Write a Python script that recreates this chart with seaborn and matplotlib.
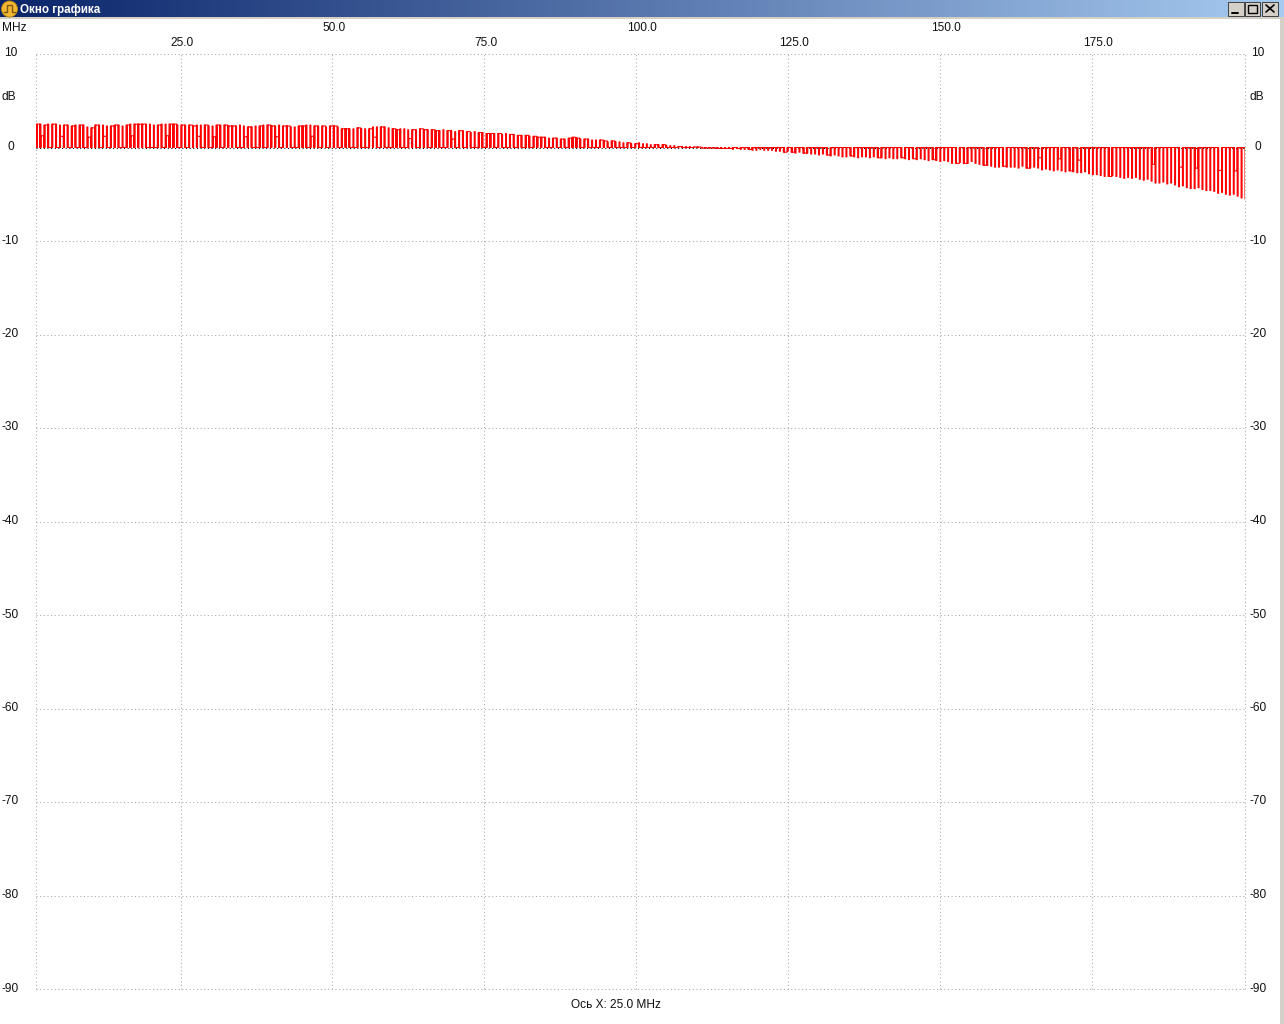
import numpy as np
import pandas as pd
import seaborn as sns
import matplotlib.pyplot as plt
from matplotlib.patches import Circle, Rectangle
from matplotlib.transforms import ScaledTranslation

# pulse tops in dB left to right
peaks_a = [2.5, 2.5, 2.4, 2.5, 2.5, 2.5, 2.4, 2.4, 2.4, 2.3, 2.4, 2.4, 2.4, 2.2, 2.1, 2.4, 2.4, 2.4, 2.3, 2.3,
           2.4, 2.4, 2.3, 2.4, 2.5, 2.5, 2.5, 2.5, 2.5, 2.5, 2.4, 2.4, 2.5, 2.5, 2.5, 2.5, 2.4, 2.4, 2.4, 2.4,
           2.3, 2.4, 2.4, 2.4, 2.3, 2.3, 2.4, 2.4, 2.4, 2.3]
peaks_b = [2.3, 2.3, 2.4, 2.3, 2.2, 2.2, 2.3, 2.3, 2.4, 2.4, 2.3, 2.3, 2.4, 2.3, 2.3, 2.2, 2.2, 2.3, 2.3, 2.4,
           2.4, 2.3, 2.3, 2.3, 2.2, 2.3, 2.3, 2.2, 2.0, 2.0, 2.0, 2.0, 2.1, 2.0, 2.0, 2.0, 2.2, 2.2, 2.2, 2.2,
           2.1, 2.0, 1.9, 2.0, 2.0, 1.9, 1.9, 1.9, 2.0, 1.9]
peaks_c = [1.9, 1.9, 1.8, 1.8, 1.9, 1.8, 1.8, 1.7, 1.8, 1.8, 1.7, 1.6, 1.7, 1.6, 1.6, 1.5, 1.5, 1.5, 1.5, 1.4,
           1.5, 1.4, 1.4, 1.3, 1.3, 1.3, 1.2, 1.2, 1.1, 1.1, 1.1, 1.0, 1.0, 1.0, 0.9, 0.9, 1.0, 1.1, 1.0, 0.9,
           0.9, 0.9, 0.8, 0.8, 0.8, 0.7, 0.6, 0.7, 0.6, 0.6]
peaks_d = [0.5, 0.5, 0.4, 0.4, 0.5, 0.4, 0.4, 0.3, 0.3, 0.3, 0.3, 0.2, 0.2, 0.2, 0.1, 0.1, 0.1, 0.1, 0.05, 0.05,
           -0.05, -0.05, -0.05, -0.05, -0.1, -0.1, -0.1, -0.1, -0.2, -0.1, -0.2, -0.2, -0.2, -0.3, -0.3, -0.2, -0.3, -0.3, -0.3, -0.4,
           -0.4, -0.5, -0.4, -0.5, -0.6, -0.5, -0.6, -0.6, -0.7, -0.7]
peaks_e = [-0.8, -0.7, -0.8, -0.9, -0.8, -0.9, -1.0, -1.0, -0.9, -1.0, -1.1, -1.0, -1.0, -1.1, -1.0, -1.1, -1.1, -1.2, -1.1, -1.2,
           -1.2, -1.1, -1.2, -1.3, -1.2, -1.3, -1.2, -1.3, -1.4, -1.3, -1.4, -1.5, -1.4, -1.5, -1.7, -1.7, -1.6, -1.7, -1.7, -1.5,
           -1.7, -1.8, -1.9, -1.9, -2.0, -2.1, -2.1, -2.0, -2.1, -2.1]
peaks_f = [-2.1, -2.2, -2.0, -2.2, -2.2, -2.1, -2.2, -2.4, -2.3, -2.4, -2.5, -2.4, -2.5, -2.6, -2.5, -2.6, -2.7, -2.7, -2.6, -2.8,
           -2.9, -2.9, -3.0, -3.1, -3.1, -3.0, -3.1, -3.2, -3.3, -3.2, -3.3, -3.2, -3.4, -3.5, -3.4, -3.6, -3.8, -3.8, -3.7, -3.9,
           -3.8, -4.0, -4.2, -4.1, -4.3, -4.4, -4.4, -4.3, -4.5, -4.6]
peaks_g = [-4.6, -4.7, -4.9, -4.8, -5.0, -5.1, -5.0, -5.2, -5.4, -5.5]

# what the trace does between pulses: 0 back to baseline, 1 stays at the top, 5 half way
gaps_a = "15101051010105110501100151110001051101011501051011"
gaps_b = "10051001011501100110510101101100100150100110051011"
gaps_c = "01100150101001011010010101011100101011101000110100"
gaps_d = "01010000101000100011111111110100100000000101001000"
gaps_e = "00100000100000010000010010000100000101000010000100"
gaps_f = "00010050000500105000000010000000000500000050005000"
gaps_g = "0050005000"

y_ticks = [10, 0, -10, -20, -30, -40, -50, -60, -70, -80, -90]
x_ticks_low = [25, 75, 125, 175]
x_ticks_high = [50, 100, 150]
f_start = 1.2
f_stop = 200.2
title_text = "Окно графика"
footer_text = "Ось X: 25.0 MHz"


def build_trace():
    peaks = peaks_a + peaks_b + peaks_c + peaks_d + peaks_e + peaks_f + peaks_g
    gaps = gaps_a + gaps_b + gaps_c + gaps_d + gaps_e + gaps_f + gaps_g
    freqs = np.linspace(f_start, f_stop, len(peaks))
    bar_w = (f_stop - f_start) / 1209
    xs, ys = [], []
    for f, top, gap in zip(freqs, peaks, gaps):
        level = top * {"0": 0, "1": 1, "5": 0.5}[gap]
        # every pulse reaches the baseline, whatever the gap after it does
        xs += [f, f, f, f + bar_w, f + bar_w, f + bar_w]
        ys += [ys[-1] if ys else 0, 0, top, top, 0, level]
    return pd.DataFrame({"freq": xs, "db": ys})


def draw_window(fig):
    # title bar and borders, in pixel coordinates
    win = fig.add_axes([0, 0, 1, 1], zorder=-1)
    grad = np.linspace(0, 1, 256).reshape(1, -1, 1)
    rgb = np.array([0x0a, 0x24, 0x6a]) * (1 - grad) + np.array([0xa6, 0xca, 0xf0]) * grad
    win.imshow(rgb / 255, extent=[0, 1284, 17, 0], aspect='auto')
    win.set_xlim(0, 1284)
    win.set_ylim(1024, 0)
    win.axis('off')
    win.add_patch(Rectangle((0, 17), 1284, 1.5, color='#d4d0c8', lw=0))
    win.add_patch(Rectangle((1280, 17), 4, 1007, color='#d4d0c8', lw=0))
    win.add_patch(Circle((9.5, 9), 8, fc='#f2b632', ec='#b8860b', lw=0.6))
    win.plot([4, 7, 7, 12, 12, 15], [12, 12, 5, 5, 12, 12], color='#7a5a10', lw=1)
    win.text(20, 9.5, title_text, color='white', fontsize=8.4, fontweight='bold', va='center')
    for x0 in [1228, 1244.5, 1262]:
        win.add_patch(Rectangle((x0, 2), 15.5, 13.5, fc='#d4d0c8', ec='#404040', lw=0.7))
    win.plot([1232, 1238], [12.5, 12.5], color='black', lw=1.4)
    win.add_patch(Rectangle((1248, 4.5), 9, 8, fc='none', ec='black', lw=1))
    win.plot([1266, 1274], [5, 12], color='black', lw=1.2)
    win.plot([1266, 1274], [12, 5], color='black', lw=1.2)


def main():
    sns.set_theme(style='white')
    plt.rcParams['font.family'] = ['Liberation Sans', 'DejaVu Sans']
    fs = 8.6

    fig = plt.figure(figsize=(12.84, 10.24), dpi=100, facecolor='white')
    draw_window(fig)

    ax = fig.add_axes([36 / 1284, 1 - 989 / 1024, (1245 - 36) / 1284, (989 - 54) / 1024])
    ax.patch.set_alpha(0)
    ax.set_xlim(f_start, f_stop)
    ax.set_ylim(-90, 10)
    for s in ax.spines.values():
        s.set_visible(False)

    all_x = sorted(x_ticks_low + x_ticks_high)
    dot = (0, (1, 2.5))
    for x in [f_start] + all_x + [f_stop]:
        ax.axvline(x, color='#a8a8a8', lw=0.75, ls=dot, zorder=1, clip_on=False)
    for y in y_ticks:
        ax.axhline(y, color='black' if y == 0 else '#a8a8a8', lw=0.75, ls=dot, zorder=1, clip_on=False)

    trace = build_trace()
    sns.lineplot(data=trace, x='freq', y='db', color='#ff0000', lw=0.75, estimator=None,
                 sort=False, ax=ax, zorder=3)
    ax.set_xlabel('')
    ax.set_ylabel('')

    # x labels sit on two rows above the plot
    ax.xaxis.tick_top()
    ax.set_xticks(x_ticks_low)
    ax.set_xticklabels([f"{v:.1f}" for v in x_ticks_low], fontsize=fs, color='#111111')
    ax.set_xticks(x_ticks_high, minor=True)
    ax.set_xticklabels([f"{v:.1f}" for v in x_ticks_high], minor=True, fontsize=fs, color='#111111')
    ax.tick_params(axis='x', which='major', length=0, pad=3.5)
    ax.tick_params(axis='x', which='minor', length=0, pad=14.5)
    # labels in the original start at a fixed spot, so longer ones sit further right
    for lbl in ax.get_xticklabels() + ax.get_xticklabels(minor=True):
        shift = 6 if len(lbl.get_text()) > 4 else 1.5
        lbl.set_transform(lbl.get_transform() + ScaledTranslation(shift / 100, 0, fig.dpi_scale_trans))

    ax.set_yticks(y_ticks)
    ax.set_yticklabels([str(v) for v in y_ticks], fontsize=fs, ha='center', color='#111111')
    ax.tick_params(axis='y', length=0, pad=18.4)
    right = ax.twinx()
    right.set_ylim(-90, 10)
    right.patch.set_alpha(0)
    for s in right.spines.values():
        s.set_visible(False)
    right.grid(False)
    right.set_yticks(y_ticks)
    right.set_yticklabels([str(v) for v in y_ticks], fontsize=fs, ha='center', color='#111111')
    right.tick_params(axis='y', length=0, pad=9.4)

    nudge = ScaledTranslation(0, 2 / 100, fig.dpi_scale_trans)
    for lbl in ax.get_yticklabels() + right.get_yticklabels():
        lbl.set_transform(lbl.get_transform() + nudge)

    fig.text(2 / 1284, 1 - 28 / 1024, 'MHz', fontsize=fs, va='center', color='#111111')
    fig.text(9 / 1284, 1 - 97 / 1024, 'dB', fontsize=fs, va='center', ha='center', color='#111111')
    fig.text(1257 / 1284, 1 - 97 / 1024, 'dB', fontsize=fs, va='center', ha='center', color='#111111')
    fig.text(616 / 1284, 1 - 1005 / 1024, footer_text, fontsize=fs, va='center', ha='center', color='#111111')

    fig.savefig('out.png', dpi=100)
    plt.close(fig)


if __name__ == "__main__":
    main()
